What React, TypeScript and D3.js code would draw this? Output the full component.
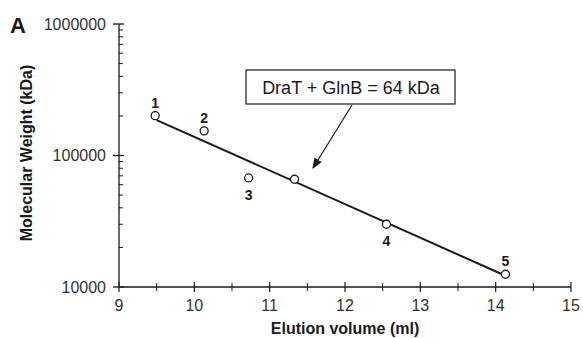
import React from 'react';
import * as d3 from 'd3';

// standards (1-5) plus the DraT + GlnB complex
const elution = [9.48, 10.13, 10.72, 11.33, 12.55, 14.13];
const molWeight = [201000, 154000, 67500, 66000, 30000, 12500];
const pointLabels = ['1', '2', '3', '', '4', '5'];
const labelAbove = [true, true, false, false, false, true];

// fitted calibration line end points
const fitX = [9.5, 14.1];
const fitY = [186000, 12400];

const xTicks = [9, 10, 11, 12, 13, 14, 15];
const xMinor = [9.5, 10.5, 11.5, 12.5, 13.5, 14.5];
const yTicks = [10000, 100000, 1000000];

const annotation = 'DraT + GlnB = 64 kDa';

export default function App() {
  const width = 583;
  const height = 338;
  const margin = { top: 24, right: 12, bottom: 51, left: 119 };

  const x = d3.scaleLinear().domain([9, 15]).range([margin.left, 571]);
  const y = d3.scaleLog().domain([10000, 1000000]).range([287, margin.top]);

  const yMinor: number[] = [];
  [10000, 100000].forEach((dec) => {
    for (let k = 2; k <= 9; k++) yMinor.push(dec * k);
  });

  const line = d3
    .line<number>()
    .x((_, i) => x(fitX[i]))
    .y((d) => y(d));

  const ink = '#1a1a1a';
  const font = 'Liberation Sans, Arial, sans-serif';

  return (
    <svg width={width} height={height} style={{ position: 'absolute', left: 0, top: 0, background: '#fff' }} fontFamily={font}>
      <defs>
        <marker id="arr" viewBox="0 0 10 10" refX="9" refY="5" markerWidth="9" markerHeight="9" orient="auto">
          <path d="M0,1 L10,5 L0,9 z" fill={ink} />
        </marker>
      </defs>

      {/* panel letter */}
      <text x={10} y={33} fontSize={22} fontWeight="bold" fill={ink}>A</text>

      {/* y axis */}
      <line x1={x(9)} x2={x(9)} y1={y(1000000)} y2={y(10000)} stroke={ink} strokeWidth={1.3} />
      {yTicks.map((t) => (
        <g key={t}>
          <line x1={x(9) - 6} x2={x(9) + 5} y1={y(t)} y2={y(t)} stroke={ink} strokeWidth={1.3} />
          <text x={x(9) - 13} y={y(t)} dy={5.5} textAnchor="end" fontSize={16} fill="#333">{t}</text>
        </g>
      ))}
      {yMinor.map((t) => (
        <line key={t} x1={x(9)} x2={x(9) + 4} y1={y(t)} y2={y(t)} stroke={ink} strokeWidth={1} />
      ))}

      {/* x axis */}
      <line x1={x(9)} x2={x(15)} y1={y(10000)} y2={y(10000)} stroke={ink} strokeWidth={1.3} />
      {xTicks.map((t) => (
        <g key={t}>
          <line x1={x(t)} x2={x(t)} y1={y(10000) - 5} y2={y(10000) + 5} stroke={ink} strokeWidth={1.2} />
          <text x={x(t)} y={y(10000) + 24} textAnchor="middle" fontSize={16} fill="#333">{t}</text>
        </g>
      ))}
      {xMinor.map((t) => (
        <line key={t} x1={x(t)} x2={x(t)} y1={y(10000) - 4} y2={y(10000) + 4} stroke={ink} strokeWidth={1} />
      ))}

      {/* axis titles */}
      <text x={345} y={334} textAnchor="middle" fontSize={16} fontWeight="bold" fill={ink}>Elution volume (ml)</text>
      <text transform={`translate(32,153) rotate(-90)`} textAnchor="middle" fontSize={16} fontWeight="bold" fill={ink}>
        Molecular Weight (kDa)
      </text>

      {/* calibration line */}
      <path d={line(fitY) || undefined} fill="none" stroke={ink} strokeWidth={2} />

      {/* points */}
      {elution.map((e, i) => (
        <g key={i}>
          <circle cx={x(e)} cy={y(molWeight[i])} r={4} fill="#fff" stroke={ink} strokeWidth={1.3} />
          {pointLabels[i] && (
            <text
              x={x(e)}
              y={y(molWeight[i]) + (labelAbove[i] ? -8 : 22)}
              textAnchor="middle"
              fontSize={14}
              fontWeight="bold"
              fill={ink}
            >
              {pointLabels[i]}
            </text>
          )}
        </g>
      ))}

      {/* annotation */}
      <rect x={246} y={70} width={209} height={34} fill="#fff" stroke={ink} strokeWidth={1.2} />
      <text x={351} y={94} textAnchor="middle" fontSize={18} fill={ink}>{annotation}</text>
      <line x1={352} y1={105} x2={313} y2={168} stroke={ink} strokeWidth={1.2} markerEnd="url(#arr)" />
    </svg>
  );
}
